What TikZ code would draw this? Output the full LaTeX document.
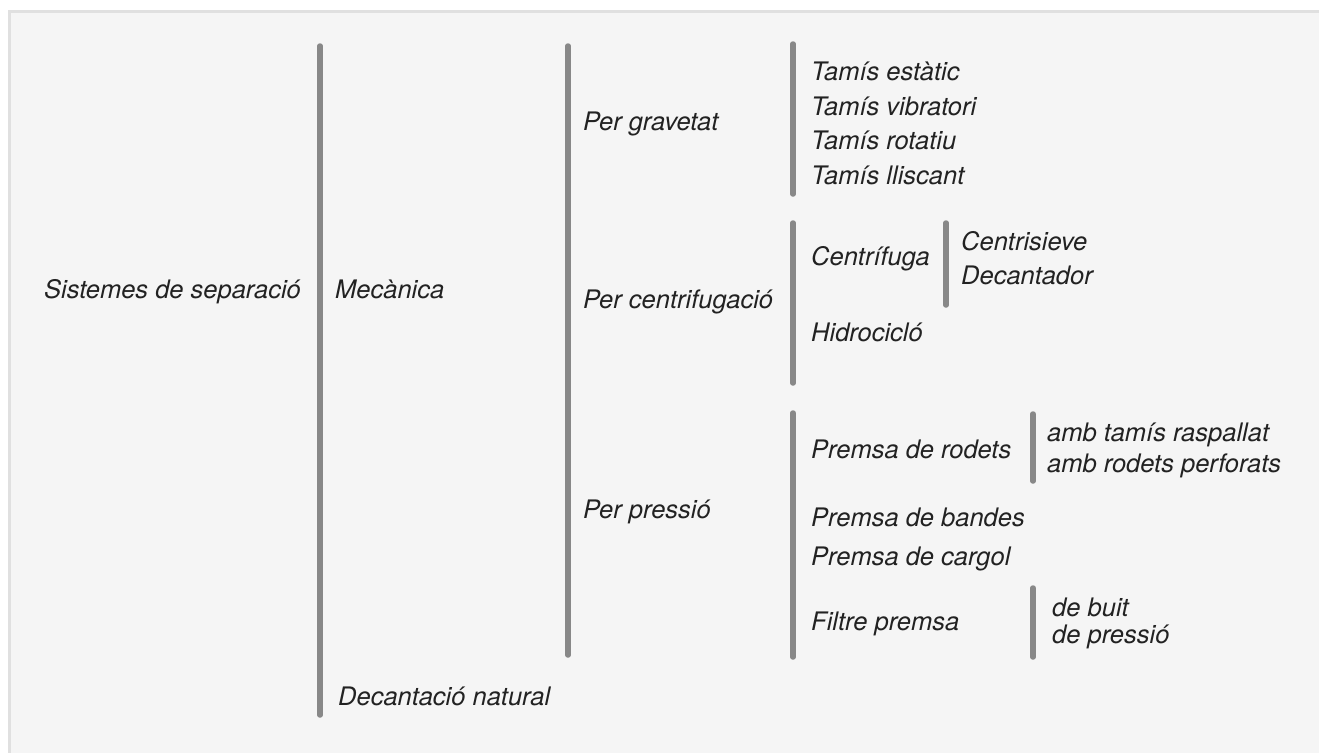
\documentclass[tikz,border=0pt]{standalone}
\usepackage{fontspec}
\setmainfont{TeX Gyre Heros}
\usetikzlibrary{positioning}

\definecolor{barcol}{HTML}{888888}
\definecolor{txtcol}{HTML}{222222}
\definecolor{bgcol}{HTML}{F5F5F5}
\definecolor{framecol}{HTML}{E0E0E0}

\tikzset{
  lbl/.style={anchor=base west,inner sep=0pt,text=txtcol,
    font=\itshape\fontsize{25.5}{29}\selectfont},
  bar/.style={draw=barcol,line width=5.5pt,line cap=round}
}

\begin{document}
\begin{tikzpicture}[x=1pt,y=-1pt]

\useasboundingbox (0,0) rectangle (1319,753);
\fill[bgcol] (8,10) rectangle (1319,753);
\draw[framecol,line width=3pt] (9.5,753) -- (9.5,11.5) -- (1319,11.5);

% level 0 and 1
\node[lbl] (sist) at (44,298) {Sistemes de separació};
\draw[bar] (320,46) -- (320,715);
\node[lbl] (mec) at (335,298) {Mecànica};
\node[lbl] (dec) at (338,705) {Decantació natural};

% level 2
\draw[bar] (568,46) -- (568,655);
\node[lbl] (grav) at (583,130) {Per gravetat};
\node[lbl] (centr) at (583,308) {Per centrifugació};
\node[lbl] (press) at (583,518) {Per pressió};

% per gravetat
\draw[bar] (793,44) -- (793,194);
\def\tamisos{1/80/{Tamís estàtic},2/115/{Tamís vibratori},3/149/{Tamís rotatiu},4/184/{Tamís lliscant}}
\foreach \i/\y/\element in \tamisos
  \node[lbl] (t\i) at (811,\y) {\element};

% per centrifugacio
\draw[bar] (793,223) -- (793,383);
\node[lbl] (cfg) at (811,265) {Centrífuga};
\node[lbl] (hidro) at (811,341) {Hidrocicló};
\draw[bar] (946,223) -- (946,305);
\node[lbl] (cs) at (961,250) {Centrisieve};
\node[lbl] (decan) at (961,284) {Decantador};

% per pressio
\draw[bar] (793,413) -- (793,657);
\def\premses{1/458/{Premsa de rodets},2/526/{Premsa de bandes},3/565/{Premsa de cargol},4/630/{Filtre premsa}}
\foreach \i/\y/\element in \premses
  \node[lbl] (p\i) at (811,\y) {\element};

\draw[bar] (1033,414) -- (1033,481);
\node[lbl] (ar1) at (1047,441) {amb tamís raspallat};
\node[lbl] (ar2) at (1047,472) {amb rodets perforats};

\draw[bar] (1033,588) -- (1033,657);
\node[lbl] (fb1) at (1052,616) {de buit};
\node[lbl] (fb2) at (1052,643) {de pressió};

\end{tikzpicture}
\end{document}
